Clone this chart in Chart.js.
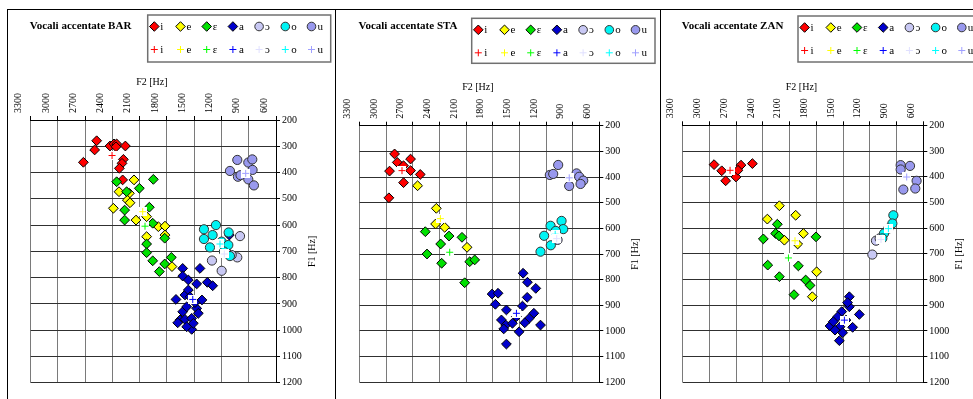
<!DOCTYPE html>
<html>
<head>
<meta charset="utf-8">
<script src="https://cdn.jsdelivr.net/npm/chart.js@4.4.1/dist/chart.umd.min.js"></script>
<style>
	html, body { margin: 0; padding: 0; background: #fff; }
	body { width: 973px; height: 399px; position: relative; overflow: hidden; }
	.panel { position: absolute; top: 10px; height: 389px; }
	.rule { position: absolute; background: #000; }
</style>
</head>
<body>
<div class="rule" style="left:7px; top:9px; width:966px; height:1px"></div>
<div class="rule" style="left:7px; top:9px; width:1px; height:390px"></div>
<div class="rule" style="left:335px; top:9px; width:1px; height:390px"></div>
<div class="rule" style="left:660px; top:9px; width:1px; height:390px"></div>

<div class="panel" style="left:8px; width:327px"><canvas id="chartBAR"></canvas></div>
<div class="panel" style="left:336px; width:324px"><canvas id="chartSTA"></canvas></div>
<div class="panel" style="left:661px; width:312px"><canvas id="chartZAN"></canvas></div>

<script>
// vowel categories, in legend order
const vowels = ['i', 'e', 'ε', 'a', 'ɔ', 'o', 'u'];

// tick values
const f2Ticks = [3300, 3000, 2700, 2400, 2100, 1800, 1500, 1200, 900, 600];
const f1Ticks = [200, 300, 400, 500, 600, 700, 800, 900, 1000, 1100, 1200];

// --- BAR : [F2, F1] in Hz
const barI = [[2574,279],[2596,314],[2720,361],[2427,299],[2383,291],[2354,291],[2361,302],[2258,299],[2280,350],[2295,365],[2324,384],[2288,428]];
const barE = [[2163,428],[2328,473],[2214,479],[2236,505],[2207,515],[2390,536],[2141,581],[2024,568],[1895,606],[1822,604],[1822,638],[2024,644],[1745,758]];
const barEps = [[1950,426],[2354,435],[2244,473],[2104,460],[2266,543],[2266,581],[1994,532],[1957,593],[2024,672],[2024,705],[1957,736],[1825,650],[1752,723],[1825,748],[1884,777]];
const barA = [[1627,765],[1437,765],[1627,794],[1565,809],[1473,824],[1356,818],[1297,831],[1701,883],[1602,866],[1565,847],[1415,885],[1627,930],[1583,911],[1473,917],[1656,961],[1682,972],[1602,959],[1528,955],[1528,997],[1455,936],[1492,895],[1546,873],[1510,974],[1583,987],[1114,638]];
const barOpenO = [[996,642],[1305,735],[1198,774],[1026,723],[1088,714],[1150,700]];
const barO = [[1261,600],[1393,616],[1298,638],[1121,628],[1393,653],[1327,685],[1198,663],[1125,676],[1107,718],[1173,701]];
const barU = [[1026,352],[905,362],[861,350],[1107,394],[858,390],[1019,416],[905,426],[843,449],[990,410]];
const barMeans = [[2405,335],[2068,549],[2042,604],[1517,883],[1169,710],[1217,672],[934,403]];

// --- STA
const staI = [[2905,310],[2875,343],[2962,377],[2969,481],[2804,356],[2725,330],[2725,375],[2616,390],[2804,422]];
const staE = [[2646,434],[2435,522],[2443,583],[2341,596],[2089,674]];
const staEps = [[2559,613],[2292,630],[2146,635],[2386,661],[2540,700],[2375,736],[2059,730],[2003,723],[2116,812]];
const staA = [[1458,775],[1409,810],[1315,834],[1412,869],[1807,856],[1740,853],[1770,896],[1646,918],[1465,903],[1337,931],[1390,951],[1702,957],[1653,977],[1676,992],[1578,970],[1503,1003],[1439,968],[1262,977],[1646,1051],[1533,944]];
const staOpenO = [[1070,645]];
const staO = [[1149,590],[1025,571],[1006,603],[1221,629],[1146,666],[1262,691],[1090,610]];
const staU = [[1063,353],[1157,392],[1119,388],[939,435],[856,386],[826,399],[781,414],[811,427]];
const staMeans = [[2822,375],[2390,562],[2285,693],[1533,931],[1080,640],[1097,623],[939,403]];

// --- ZAN
const zanI = [[2948,353],[2862,377],[2818,416],[2702,401],[2646,355],[2518,349],[2680,375]];
const zanE = [[2215,513],[2350,565],[2032,550],[1946,621],[2159,647],[2010,662],[1797,770],[1845,867]];
const zanEps = [[2238,585],[2257,621],[2395,642],[1804,634],[2346,744],[2215,789],[2002,747],[1920,802],[1871,823],[2051,859],[2220,630]];
const zanA = [[1430,867],[1430,906],[1318,936],[1516,925],[1561,945],[1647,981],[1610,964],[1535,984],[1505,1007],[1393,986],[1542,1038],[1468,958],[1591,997],[1450,890]];
const zanOpenO = [[1172,703],[1131,649],[1090,640]];
const zanO = [[936,550],[947,582],[992,602],[1041,621],[1060,640]];
const zanU = [[854,355],[749,358],[854,372],[675,416],[690,446],[824,450]];
const zanMeans = [[2769,375],[2040,649],[2114,716],[1486,958],[1075,644],[992,602],[787,401]];

// styles
const pointColors = ['#FF0000', '#FFFF00', '#00E000', '#0000CC', '#C8C8F4', '#00F4F4', '#9999EE'];
const meanColors = ['#FF0000', '#FFFF00', '#00FF00', '#0000FF', '#E0E0FF', '#00FFFF', '#A0A0FF'];
const pointShapes = ['rectRot', 'rectRot', 'rectRot', 'rectRot', 'circle', 'circle', 'circle'];
const SERIF = '"Liberation Serif", "Times New Roman", serif';

Chart.defaults.font.family = SERIF;
Chart.defaults.font.size = 10;
Chart.defaults.color = '#000';

// white square with a coloured cross, used for the mean of each vowel
function meanMarker(color) {
	const c = document.createElement('canvas');
	c.width = 9;
	c.height = 9;
	const g = c.getContext('2d');
	g.fillStyle = '#fff';
	g.fillRect(0, 0, 9, 9);
	g.strokeStyle = color;
	g.lineWidth = 1;
	g.beginPath();
	g.moveTo(4.5, 1); g.lineTo(4.5, 8);
	g.moveTo(1, 4.5); g.lineTo(8, 4.5);
	g.stroke();
	return c;
}

function drawShape(ctx, shape, x, y, r, fill, stroke) {
	ctx.beginPath();
	if (shape === 'circle') {
		ctx.arc(x, y, r, 0, Math.PI * 2);
	} else {
		ctx.moveTo(x, y - r); ctx.lineTo(x + r, y); ctx.lineTo(x, y + r); ctx.lineTo(x - r, y);
		ctx.closePath();
	}
	ctx.fillStyle = fill;
	ctx.fill();
	ctx.lineWidth = 1;
	ctx.strokeStyle = stroke;
	ctx.stroke();
}

// title, axis titles and the two-row legend
const vowelDecor = {
	id: 'vowelDecor',
	afterDraw(chart, args, opts) {
		const {ctx, chartArea: {left, right, top, bottom}} = chart;
		ctx.save();
		ctx.fillStyle = '#000';
		ctx.textBaseline = 'middle';

		ctx.font = 'bold 11px ' + SERIF;
		ctx.textAlign = 'left';
		ctx.fillText(opts.title, left - 1, 16);

		ctx.font = '10px ' + SERIF;
		ctx.textAlign = 'center';
		ctx.fillText('F2 [Hz]', (left + right) / 2 - 1.5, top - 38);
		ctx.save();
		ctx.translate(right + 36, (top + bottom) / 2);
		ctx.rotate(-Math.PI / 2);
		ctx.fillText('F1 [Hz]', 0, 0);
		ctx.restore();

		// legend box
		const b = opts.box;
		ctx.fillStyle = '#fff';
		ctx.fillRect(b.x, b.y, b.w, b.h);
		ctx.lineWidth = 1.5;
		ctx.strokeStyle = '#707070';
		ctx.strokeRect(b.x, b.y, b.w, b.h);

		ctx.font = '11px ' + SERIF;
		ctx.textAlign = 'left';
		const row1 = b.y + 11.5;
		const row2 = b.y + 34.5;
		vowels.forEach((v, i) => {
			const mx = b.x + 6.6 + i * 26.2;
			const pts = chart.data.datasets[i];
			drawShape(ctx, pts.pointStyle, mx, row1, pts.pointStyle === 'circle' ? 4.3 : 4.8, pts.backgroundColor, pts.borderColor);
			ctx.strokeStyle = meanColors[i];
			ctx.lineWidth = 1;
			ctx.beginPath();
			ctx.moveTo(mx, row2 - 3.5); ctx.lineTo(mx, row2 + 3.5);
			ctx.moveTo(mx - 3.5, row2); ctx.lineTo(mx + 3.5, row2);
			ctx.stroke();
			ctx.fillStyle = '#000';
			ctx.fillText(v, mx + 6, row1 + 0.5);
			ctx.fillText(v, mx + 6, row2 + 0.5);
		});
		ctx.restore();
	}
};

function toPoints(pairs) {
	return pairs.map(([x, y]) => ({x, y}));
}

function makeChart(id, title, series, means, area, box) {
	const canvas = document.getElementById(id);
	const w = canvas.parentNode.clientWidth;
	const h = canvas.parentNode.clientHeight;

	// chart.js paints lower "order" last, so the means sit on top of everything
	const datasets = series.map((pairs, i) => ({
		label: vowels[i],
		data: toPoints(pairs),
		order: 10 - i,
		pointStyle: pointShapes[i],
		pointRadius: pointShapes[i] === 'circle' ? 4.6 : 4.9,
		backgroundColor: pointColors[i],
		borderColor: pointShapes[i] === 'circle' ? '#333' : '#000',
		borderWidth: 1
	}));
	means.forEach((p, i) => {
		datasets.push({
			label: vowels[i] + ' mean',
			data: toPoints([p]),
			order: 0,
			pointStyle: meanMarker(meanColors[i]),
			pointRadius: 5
		});
	});

	return new Chart(canvas, {
		type: 'scatter',
		data: { datasets },
		options: {
			responsive: true,
			maintainAspectRatio: false,
			animation: false,
			layout: { padding: { left: area.left, top: 0, right: 0, bottom: h - area.bottom } },
			plugins: {
				legend: { display: false },
				tooltip: { enabled: false },
				vowelDecor: { title, box }
			},
			scales: {
				x: {
					type: 'linear',
					position: 'top',
					reverse: true,
					min: f2Ticks[f2Ticks.length - 1],
					max: f2Ticks[0],
					afterFit: (scale) => { scale.height = area.top; },
					afterBuildTicks: (scale) => { scale.ticks = f2Ticks.map(v => ({value: v})); },
					ticks: { autoSkip: false, minRotation: 90, maxRotation: 90, padding: 3, callback: (v) => String(v) },
					grid: { color: '#7a7a7a', tickColor: '#000', tickLength: 4 },
					border: { color: '#000' }
				},
				y: {
					type: 'linear',
					position: 'right',
					reverse: true,
					min: f1Ticks[0],
					max: f1Ticks[f1Ticks.length - 1],
					afterFit: (scale) => { scale.width = w - area.right; },
					afterBuildTicks: (scale) => { scale.ticks = f1Ticks.map(v => ({value: v})); },
					ticks: { padding: 2, callback: (v) => String(v) },
					grid: { color: '#303030', tickColor: '#000', tickLength: 4 },
					border: { color: '#000' }
				}
			}
		},
		plugins: [vowelDecor]
	});
}

makeChart('chartBAR', 'Vocali accentate BAR',
	[barI, barE, barEps, barA, barOpenO, barO, barU], barMeans,
	{ left: 22.7, right: 268, top: 110, bottom: 372.7 },
	{ x: 139.7, y: 5, w: 183, h: 47 });

makeChart('chartSTA', 'Vocali accentate STA',
	[staI, staE, staEps, staA, staOpenO, staO, staU], staMeans,
	{ left: 23.5, right: 263.3, top: 115.7, bottom: 372.3 },
	{ x: 135.7, y: 8.3, w: 183.3, h: 45 });

makeChart('chartZAN', 'Vocali accentate ZAN',
	[zanI, zanE, zanEps, zanA, zanOpenO, zanO, zanU], zanMeans,
	{ left: 21.7, right: 262.3, top: 115.3, bottom: 372.3 },
	{ x: 137, y: 6, w: 183, h: 46 });
</script>
</body>
</html>
